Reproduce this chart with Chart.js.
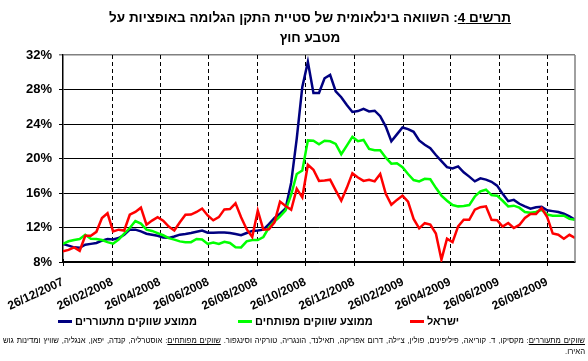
<!DOCTYPE html>
<html><head><meta charset="utf-8">
<script src="https://cdn.jsdelivr.net/npm/chart.js@4/dist/chart.umd.min.js"></script>
<style>
html,body{margin:0;padding:0;background:#fff;}
#wrap{position:relative;width:588px;height:361px;overflow:hidden;font-family:"Liberation Sans",Arial,sans-serif;}
#c{position:absolute;left:0;top:0;}
#title{position:absolute;left:60px;top:8px;width:500px;text-align:center;direction:rtl;font-weight:bold;font-size:13.5px;line-height:20px;color:#000;white-space:nowrap;}
.li{position:absolute;top:313px;display:flex;align-items:center;white-space:nowrap;direction:ltr;font-weight:bold;font-size:11px;line-height:16px;}
.sw{width:14px;height:3px;margin-right:3px;}
.tx{direction:rtl;}
#note{position:absolute;left:3px;top:335px;width:582px;direction:rtl;font-size:7.7px;line-height:11px;color:#000;}
#n1{text-align:justify;text-align-last:justify;white-space:nowrap;}
#n2{text-align:right;}
</style></head>
<body><div id="wrap">
<canvas id="c" width="588" height="361"></canvas>
<div id="title"><div><u>תרשים 4</u>: השוואה בינלאומית של סטיית התקן הגלומה באופציות על</div><div>מטבע חוץ</div></div>
<div id="legend"></div>
<div id="note"><div id="n1"><u>שווקים מתעוררים</u>: מקסיקו, ד. קוריאה, פיליפינים, פולין, צ'ילה, דרום אפריקה, תאילנד, הונגריה, טורקיה וסינגפור. <u>שווקים מפותחים</u>: אוסטרליה, קנדה, יפאן, אנגליה, שוויץ ומדינות גוש</div><div id="n2">האירו.</div></div>
</div>
<script>
// Weekly observations starting 26/12/2007
const startDate = '2007-12-26';
const seriesLabels = ['ממוצע שווקים מתעוררים', 'ממוצע שווקים מפותחים', 'ישראל'];
const emerging = [10.09,9.9,9.7,9.65,10.0,10.1,10.2,10.47,10.67,10.6,10.78,11.15,11.75,11.75,11.55,11.28,11.17,11.05,10.85,10.8,
10.95,11.17,11.25,11.36,11.5,11.65,11.4,11.4,11.43,11.43,11.35,11.25,11.1,11.36,11.6,11.66,11.75,12.4,13.1,13.6,
14.2,17.2,22.3,28.3,31.2,27.6,27.6,29.3,29.7,27.8,27.1,26.2,25.4,25.5,25.75,25.46,25.54,24.9,23.7,22.0,
22.8,23.6,23.4,23.1,22.1,21.6,21.2,20.4,19.7,19.0,18.85,19.08,18.4,17.9,17.35,17.7,17.55,17.3,16.85,15.9,
15.05,15.2,14.75,14.45,14.18,14.35,14.4,14.0,13.9,13.8,13.6,13.3,12.9];
const developed = [10.09,10.4,10.55,10.67,11.15,10.7,10.67,10.55,10.3,10.12,10.6,11.3,11.94,12.75,12.45,11.75,11.6,11.35,11.1,10.77,
10.6,10.39,10.3,10.3,10.67,10.6,10.1,10.25,10.1,10.35,10.2,9.7,9.69,10.4,10.55,10.55,10.9,12.0,12.7,13.3,
14.0,15.8,18.2,18.6,22.1,22.06,21.65,22.06,22.0,21.7,20.5,21.5,22.5,22.0,22.15,21.1,20.95,20.95,20.1,19.4,
19.45,19.0,18.2,17.5,17.35,17.65,17.6,16.6,15.7,15.1,14.6,14.45,14.5,14.6,15.6,16.2,16.38,15.75,15.69,15.1,
14.45,14.53,14.3,13.8,13.7,13.8,14.06,13.5,13.37,13.37,13.37,13.0,12.9];
const israel = [9.23,9.4,9.7,9.3,11.05,11.05,11.5,13.1,13.65,11.55,11.75,11.65,13.48,13.8,14.3,12.33,12.8,13.2,12.8,12.1,
11.66,12.6,13.48,13.5,13.8,14.2,13.4,12.83,13.2,14.1,14.14,14.8,13.2,11.8,10.9,13.95,11.75,11.8,12.6,15.0,
14.5,14.06,16.5,15.5,19.28,18.7,17.4,17.45,17.54,16.3,15.11,16.6,18.3,17.8,17.4,17.54,17.35,18.2,15.9,14.64,
15.2,15.7,15.0,13.0,11.9,12.5,12.35,11.3,8.27,10.7,10.3,12.13,12.9,12.9,14.06,14.35,14.45,12.9,12.85,12.1,
12.52,11.94,12.3,13.1,13.57,13.57,14.26,13.2,11.3,11.17,10.7,11.15,10.78];
const tickLabels = ['26/12/2007','26/02/2008','26/04/2008','26/06/2008','26/08/2008','26/10/2008','26/12/2008','26/02/2009','26/04/2009','26/06/2009','26/08/2009'];
const yTicks = [8,12,16,20,24,28,32];
const colors = ['#000080','#00FF00','#FF0000'];

const DAY = 86400000;
const t0 = Date.parse(startDate + 'T00:00:00Z');
function dayOf(lbl){ const [d,m,y] = lbl.split('/').map(Number); return Math.round((Date.UTC(y,m-1,d)-t0)/DAY); }
const tickDays = tickLabels.map(dayOf);
const xDays = emerging.map((_, i) => i * 7);
const xMax = xDays[xDays.length-1];
const toPts = arr => arr.map((v,i)=>({x:xDays[i], y:v}));

const allSeries = [emerging, developed, israel];
const datasets = allSeries.map((s,i)=>({
  label: seriesLabels[i], data: toPts(s), borderColor: colors[i], backgroundColor: colors[i],
  borderWidth: 2.5, pointRadius: 0, tension: 0, order: 3 - i
}));

const legendLeft = [58, 238, 410];
const legend = document.getElementById('legend');
datasets.forEach((d,i)=>{
  const it = document.createElement('div'); it.className='li'; it.style.left = legendLeft[i]+'px';
  const sw = document.createElement('span'); sw.className='sw'; sw.style.background = d.borderColor;
  const tx = document.createElement('span'); tx.className='tx'; tx.textContent = d.label;
  it.appendChild(sw); it.appendChild(tx); legend.appendChild(it);
});

const frame = {
  id:'frame',
  beforeDatasetsDraw(chart){
    const {ctx, chartArea:a, scales:{x}} = chart;
    ctx.save();
    ctx.strokeStyle = '#000'; ctx.lineWidth = 1;
    tickDays.forEach(v=>{
      const px = Math.round(x.getPixelForValue(v)) + 0.5;
      if (v > 0) {
        ctx.setLineDash([4,3]);
        ctx.beginPath(); ctx.moveTo(px, a.top); ctx.lineTo(px, a.bottom); ctx.stroke();
      }
      ctx.setLineDash([]);
      ctx.beginPath(); ctx.moveTo(px, a.bottom - 3); ctx.lineTo(px, a.bottom + 4); ctx.stroke();
    });
    ctx.restore();
  },
  afterDatasetsDraw(chart){
    const {ctx, chartArea:a} = chart;
    ctx.save(); ctx.strokeStyle='#808080'; ctx.lineWidth=1.5;
    ctx.beginPath(); ctx.moveTo(a.right, a.top); ctx.lineTo(a.right, a.bottom); ctx.stroke();
    ctx.restore();
  }
};

new Chart(document.getElementById('c'), {
  type:'line',
  data:{datasets},
  plugins:[frame],
  options:{
    responsive:false, animation:false,
    layout:{padding:{top:55, right:13, left:0, bottom:0}},
    plugins:{legend:{display:false}, tooltip:{enabled:false}, title:{display:false}},
    scales:{
      x:{type:'linear', min:0, max:xMax,
        afterBuildTicks(s){ s.ticks = tickDays.map(v=>({value:v})); },
        afterFit(s){ s.height = 99; },
        ticks:{autoSkip:false, maxRotation:25, minRotation:25, padding:5, color:'#000',
          font:{family:'"Liberation Sans", Arial, sans-serif', size:12, weight:'bold'},
          callback(v){ const k = tickDays.indexOf(v); return k>=0 ? tickLabels[k] : ''; }},
        grid:{display:false},
        border:{display:true, color:'#000', width:1.5}
      },
      y:{min:8, max:32,
        afterBuildTicks(s){ s.ticks = yTicks.map(v=>({value:v})); },
        afterFit(s){ s.width = 63; },
        ticks:{padding:7, color:'#000', font:{family:'"Liberation Sans", Arial, sans-serif', size:13, weight:'bold'},
          callback(v){ return v + '%'; }},
        grid:{color(c){ return c.tick && c.tick.value===32 ? '#808080' : '#000'; }, lineWidth(c){ return c.tick && c.tick.value===32 ? 1.5 : 1; }, tickLength:4},
        border:{display:true, color:'#000', width:1.5}
      }
    }
  }
});
</script>
</body></html>
